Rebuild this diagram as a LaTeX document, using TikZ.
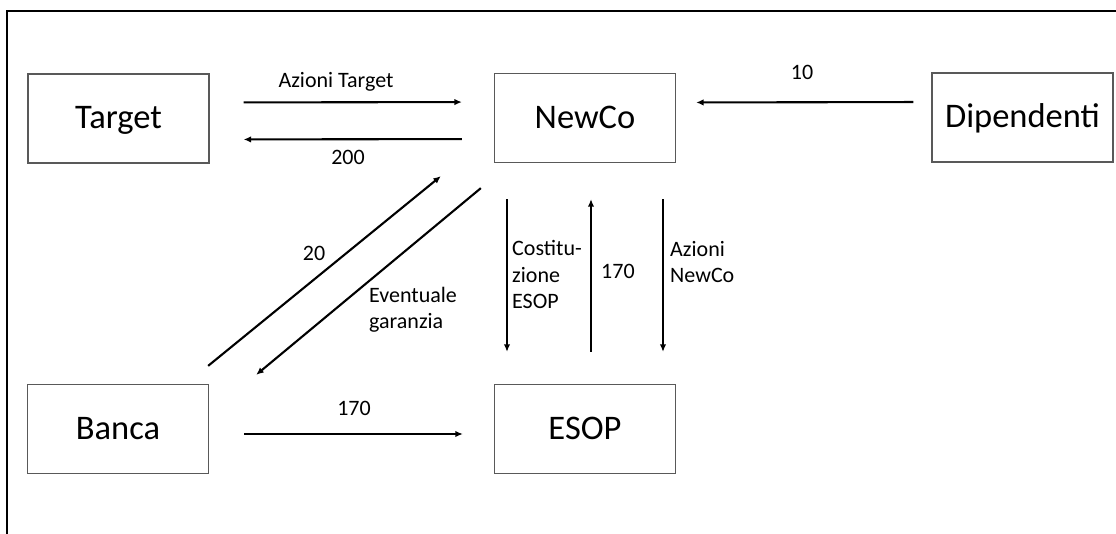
\documentclass[tikz,border=0pt]{standalone}
\usepackage{fontspec}
\setmainfont{Carlito}
\usetikzlibrary{arrows.meta}
\begin{document}
\begin{tikzpicture}[x=1pt,y=-1pt,
  box/.style={draw=black!65, line width=1.3pt, minimum width=181pt, minimum height=89pt, inner sep=0pt, text height=28pt, text depth=7pt, font=\fontsize{34.5}{40}\selectfont},
  arr/.style={line width=2.1pt, -{Latex[length=7.5pt,width=6.5pt]}},
  lbl/.style={inner sep=0pt, font=\fontsize{22}{26.5}\selectfont, align=left}]
\useasboundingbox (0,0) rectangle (1116,534);
\draw[line width=2.4pt] (7,534) -- (7,11) -- (1116,11);
% boxes
\node[box] (target) at (118.5,118.5) {Target};
\node[box] (newco) at (585,118) {NewCo};
\node[box] (dip) at (1022.5,117.5) {Dipendenti};
\node[box] (banca) at (118,429) {Banca};
\node[box] (esop) at (585,429) {ESOP};
% connectors
\draw[arr, shorten <=34pt, shorten >=32pt] ([yshift=16pt]target.east) -- ([yshift=16pt]newco.west);
\draw[arr, shorten <=32pt, shorten >=34pt] ([yshift=-21pt]newco.west) -- ([yshift=-21pt]target.east);
\draw[arr, shorten <=18pt, shorten >=20pt] ([yshift=15.5pt]dip.west) -- ([yshift=15.5pt]newco.east);
\draw[arr, shorten <=35pt, shorten >=31pt] ([yshift=-5pt]banca.east) -- ([yshift=-5pt]esop.west);
\draw[arr] ([xshift=-1pt,yshift=18pt]banca.north east) -- ([xshift=-53pt,yshift=-13pt]newco.south west);
\draw[arr] ([xshift=-13pt,yshift=-25pt]newco.south west) -- ([xshift=47pt,yshift=9pt]banca.north east);
\draw[arr, shorten <=36pt, shorten >=32pt] ([xshift=-78pt]newco.south) -- ([xshift=-78pt]esop.north);
\draw[arr, shorten <=32pt, shorten >=36pt] ([xshift=6pt]esop.north) -- ([xshift=6pt]newco.south);
\draw[arr, shorten <=36pt, shorten >=32pt] ([xshift=78pt]newco.south) -- ([xshift=78pt]esop.north);
% labels
\node[lbl, anchor=base] (l1) at (336,88) {Azioni Target};
\node[lbl, anchor=base] (l2) at (348,165) {200};
\node[lbl, anchor=base] (l3) at (802,80) {10};
\node[lbl, anchor=base] (l4) at (354,415) {170};
\node[lbl, anchor=base] (l5) at (314,261) {20};
\node[lbl, anchor=base west] (l6) at (369,329) {Eventuale\\garanzia};
\node[lbl, anchor=base west] (l7) at (512,309) {Costitu-\\zione\\ESOP};
\node[lbl, anchor=base west] (l8) at (601,279) {170};
\node[lbl, anchor=base west] (l9) at (670,283) {Azioni\\NewCo};
\end{tikzpicture}
\end{document}
